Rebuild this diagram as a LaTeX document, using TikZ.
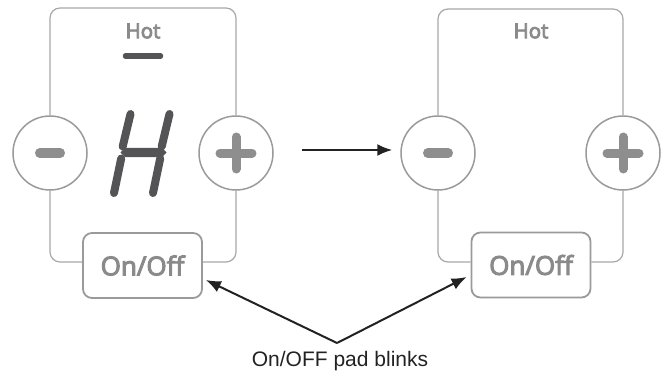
\documentclass[tikz,border=0pt]{standalone}
\usepackage{fontspec}
\setmainfont{Liberation Sans}
\newfontfamily\osans[RawFeature={embolden=4}]{Open Sans}
\usetikzlibrary{arrows.meta}
\definecolor{panelgray}{HTML}{A8A8A8}
\definecolor{circgray}{HTML}{9A9A9A}
\definecolor{signgray}{HTML}{8E8E8E}
\definecolor{txtgray}{HTML}{8A8A8A}
\definecolor{seggray}{HTML}{545456}
\definecolor{ink}{HTML}{222222}
\tikzset{
  panel/.style={draw=panelgray, line width=1.2pt, rounded corners=10pt},
  pad/.style={circle, draw=circgray, line width=1.5pt, minimum size=74pt, inner sep=0pt},
  sign/.style={draw=signgray, line width=9.5pt, line cap=round},
  onoff/.style={draw=circgray, line width=1.8pt, rounded corners=9pt, minimum width=119pt, minimum height=65pt, inner sep=0pt, text=txtgray, font=\osans\fontsize{26}{30}\selectfont},
  hot/.style={text=txtgray, font=\osans\fontsize{20.5}{23}\selectfont, inner sep=0pt},
  seg/.style={draw=seggray, line width=8pt, line cap=round},
  arr/.style={draw=ink, line width=2pt, -{Latex[length=15pt,width=12pt]}},
}
\begin{document}
\begin{tikzpicture}[x=1pt,y=-1pt]
\useasboundingbox (0,0) rectangle (665,375);
% left panel
\node[pad] (mL) at (50,153) {};
\node[pad] (pL) at (236,153) {};
\node[onoff] (oL) at (142.5,265.5) {On/Off};
\coordinate (tL) at (143,8);
\draw[panel] (mL.north) |- (tL) -| (pL.north);
\draw[panel] (mL.south) |- ([yshift=3.5pt]oL.west);
\draw[panel] (pL.south) |- ([yshift=3.5pt]oL.east);
\node[hot] (hL) at (143,31) {Hot};
\draw[draw=seggray, line width=5.5pt, line cap=round] (125.5,56) -- (160.5,56);
\draw[sign] ([xshift=-10.25pt]mL.center) -- ([xshift=10.25pt]mL.center);
\draw[sign, line width=9pt] ([xshift=-16pt]pL.center) -- ([xshift=16pt]pL.center);
\draw[sign, line width=9pt] ([yshift=-16pt]pL.center) -- ([yshift=16pt]pL.center);
% seven-segment H
\draw[seg] (130.5,114) -- (122.7,146.5);
\draw[seg] (121.2,158.5) -- (114,193);
\draw[seg] (169.5,114) -- (161.7,146.5);
\draw[seg] (160.2,158.5) -- (153,193);
\fill[seggray] (120.5,152.5) -- (125,147.8) -- (162,147.8) -- (166.5,152.5) -- (162,157.2) -- (125,157.2) -- cycle;
% right panel
\node[pad] (mR) at (438,153) {};
\node[pad] (pR) at (623,153) {};
\node[onoff] (oR) at (531,265) {On/Off};
\coordinate (tR) at (531,9);
\draw[panel] (mR.north) |- (tR) -| (pR.north);
\draw[panel] (mR.south) |- ([yshift=3pt]oR.west);
\draw[panel] (pR.south) |- ([yshift=3pt]oR.east);
\node[hot] (hR) at (531,31) {Hot};
\draw[sign] ([xshift=-10.25pt]mR.center) -- ([xshift=10.25pt]mR.center);
\draw[sign, line width=9pt] ([xshift=-16pt]pR.center) -- ([xshift=16pt]pR.center);
\draw[sign, line width=9pt] ([yshift=-16pt]pR.center) -- ([yshift=16pt]pR.center);
% middle arrow
\coordinate (a0) at (302,150);
\draw[arr] (a0) -- ([xshift=-8pt]mR.west |- a0);
% bottom label and arrows
\node[text=ink, font=\fontsize{21}{24}\selectfont, inner sep=0pt] (lbl) at (340,361) {On/OFF pad blinks};
\coordinate (apex) at (337,343);
\draw[arr] (apex) -- ([shift={(3pt,-14.5pt)}]oL.east);
\draw[arr] (apex) -- ([shift={(-4pt,-12pt)}]oR.west);
\end{tikzpicture}
\end{document}
